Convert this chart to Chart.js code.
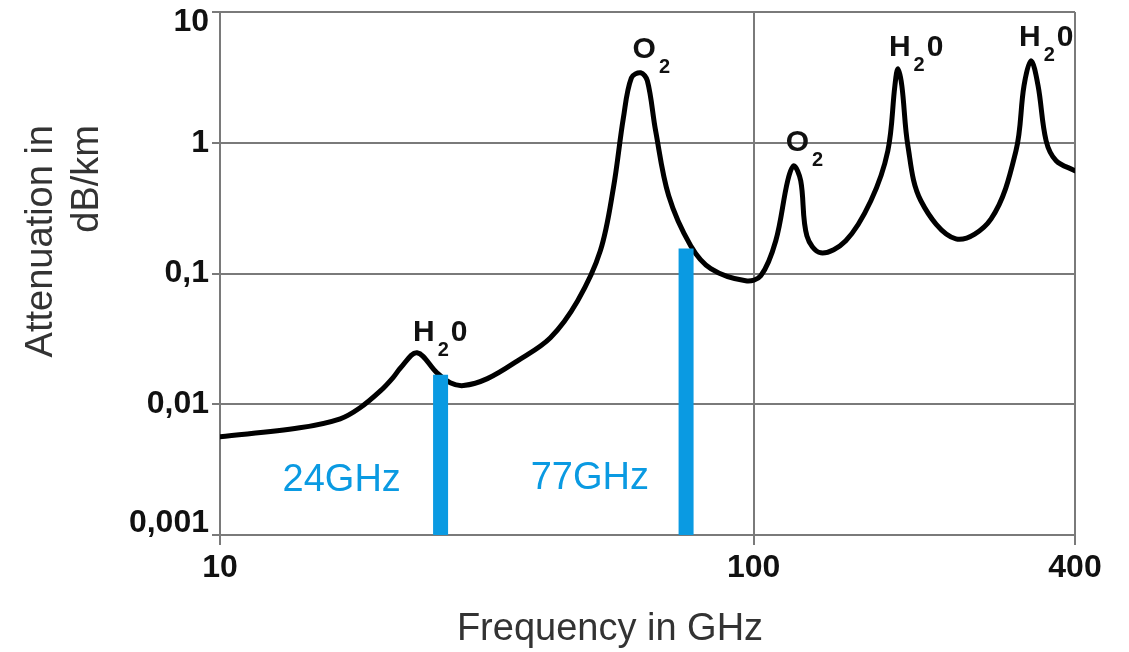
<!DOCTYPE html>
<html>
<head>
<meta charset="utf-8">
<title>Atmospheric attenuation</title>
<script src="https://cdn.jsdelivr.net/npm/chart.js@4.4.1/dist/chart.umd.min.js"></script>
<style>
  html, body { margin: 0; padding: 0; background: #fff; }
  #wrap { width: 1129px; height: 652px; }
</style>
</head>
<body>
<div id="wrap"><canvas id="attChart"></canvas></div>
<script>
// values
const freqGHz = [10, 14.1, 16.8, 18.3, 20.0, 21.1, 21.8, 23.4, 25.5, 27.0, 28.6, 31.7, 36.1, 41.6, 46.8,
  51.6, 54.6, 57.0, 59.0, 61.4, 63.2, 65.5, 69.3, 76.2, 83.1, 96.6, 103.1, 110.0, 115.8, 118.9,
  122.5, 125.8, 133.6, 148.8, 165.8, 178.4, 183.9, 186.3, 189.5, 194.5, 205.7, 239.3, 278.5,
  310.1, 321.0, 330.9, 341.1, 353.1, 368.7, 400];
const attenuation = [0.00564, 0.0066, 0.00774, 0.0094, 0.0127, 0.0160, 0.019, 0.0248, 0.0174, 0.0146,
  0.0139, 0.0157, 0.0215, 0.0323, 0.0619, 0.149, 0.453, 1.553, 3.14, 3.43, 2.98, 1.235, 0.393,
  0.163, 0.109, 0.088, 0.096, 0.178, 0.512, 0.667, 0.512, 0.194, 0.144, 0.178, 0.360, 0.869,
  2.73, 3.68, 2.73, 0.949, 0.360, 0.184, 0.262, 0.869, 2.73, 4.24, 2.73, 1.036, 0.728, 0.611];

const xTicks = [10, 100, 400];
const xTickLabels = ['10', '100', '400'];
const yTicks = [0.001, 0.01, 0.1, 1, 10];
const yTickLabels = ['0,001', '0,01', '0,1', '1', '10'];

// radar bands (blue bars) and their captions
const bandFreq = [25.9, 74.7];
const bandTop = [0.0168, 0.155];
const bandLabels = ['24GHz', '77GHz'];
const bandLabelFreq = [13.1, 38.2];
const bandLabelAtt = [0.00218, 0.00226];

// absorption line captions: main letter, subscript, tail
const peakMain = ['H', 'O', 'O', 'H', 'H'];
const peakSub = ['2', '2', '2', '2', '2'];
const peakTail = ['0', '', '', '0', '0'];
const peakLabelFreq = [23.0, 59.3, 114.8, 179.2, 314.2];
const peakLabelAtt = [0.0306, 4.47, 0.869, 4.63, 5.52];

const BLUE = '#0a9ae2';
const GRID = '#7a7a7a';
const FONT = "'Liberation Sans', Arial, sans-serif";

const annotations = {
  id: 'annotations',
  afterDatasetsDraw(chart) {
    const { ctx, scales: { x, y } } = chart;
    ctx.save();
    ctx.textAlign = 'left';
    ctx.textBaseline = 'alphabetic';

    // band captions
    ctx.fillStyle = BLUE;
    ctx.font = '38px ' + FONT;
    bandLabels.forEach((t, i) => {
      ctx.fillText(t, x.getPixelForValue(bandLabelFreq[i]), y.getPixelForValue(bandLabelAtt[i]));
    });

    // H2O / O2 captions
    ctx.fillStyle = '#111';
    peakMain.forEach((m, i) => {
      let px = x.getPixelForValue(peakLabelFreq[i]);
      const py = y.getPixelForValue(peakLabelAtt[i]);
      ctx.font = 'bold 30px ' + FONT;
      ctx.fillText(m, px, py);
      px += ctx.measureText(m).width + 3;
      ctx.font = 'bold 20px ' + FONT;
      ctx.fillText(peakSub[i], px, py + 15);
      px += ctx.measureText(peakSub[i]).width + 2;
      if (peakTail[i]) {
        ctx.font = 'bold 30px ' + FONT;
        ctx.fillText(peakTail[i], px, py);
      }
    });
    ctx.restore();
  },
  afterDraw(chart) {
    const { ctx, chartArea, scales: { y } } = chart;
    ctx.save();

    // y tick labels, end labels kept inside the plot height
    ctx.fillStyle = '#111';
    ctx.font = 'bold 32px ' + FONT;
    ctx.textAlign = 'right';
    ctx.textBaseline = 'middle';
    yTicks.forEach((v, i) => {
      const py = Math.min(Math.max(y.getPixelForValue(v), chartArea.top + 10), chartArea.bottom - 12);
      ctx.fillText(yTickLabels[i], chartArea.left - 11, py);
    });

    ctx.fillStyle = '#333';
    ctx.font = '38px ' + FONT;

    // x title
    ctx.textAlign = 'center';
    ctx.textBaseline = 'alphabetic';
    ctx.fillText('Frequency in GHz', 610, chartArea.bottom + 105);

    // y title, two rotated lines
    ctx.translate(0, 125);
    ctx.rotate(-Math.PI / 2);
    ctx.textAlign = 'right';
    ctx.textBaseline = 'middle';
    ctx.fillText('Attenuation in', 0, 42);
    ctx.fillText('dB/km', 0, 88);
    ctx.restore();
  }
};

const ctx = document.getElementById('attChart');

new Chart(ctx, {
  type: 'line',
  data: {
    datasets: [{
      label: 'Attenuation',
      data: freqGHz.map((f, i) => ({ x: f, y: attenuation[i] })),
      borderColor: '#000',
      borderWidth: 5,
      pointRadius: 0,
      tension: 0.35,
      borderJoinStyle: 'round',
      borderCapStyle: 'round',
      order: 2
    }].concat(bandFreq.map((f, i) => ({
      label: bandLabels[i],
      data: [{ x: f, y: yTicks[0] }, { x: f, y: bandTop[i] }],
      borderColor: BLUE,
      borderWidth: 15,
      borderCapStyle: 'butt',
      pointRadius: 0,
      order: 1
    })))
  },
  options: {
    responsive: true,
    maintainAspectRatio: false,
    animation: false,
    layout: {
      padding: { top: 12, right: 54, left: 0, bottom: 0 }
    },
    plugins: {
      legend: { display: false },
      tooltip: { enabled: false }
    },
    scales: {
      x: {
        type: 'logarithmic',
        position: 'bottom',
        min: 10,
        max: 400,
        afterBuildTicks: scale => { scale.ticks = xTicks.map(v => ({ value: v })); },
        afterFit: scale => {
          scale.height = 117;
          scale.paddingLeft = 0;
          scale.paddingRight = 0;
        },
        grid: {
          color: GRID,
          lineWidth: 2,
          tickLength: 10,
          tickColor: GRID
        },
        border: { color: GRID, width: 2 },
        ticks: {
          autoSkip: false,
          maxRotation: 0,
          padding: 4,
          color: '#111',
          font: { family: FONT, size: 32, weight: 'bold' },
          callback: value => {
            const i = xTicks.indexOf(value);
            return i < 0 ? '' : xTickLabels[i];
          }
        }
      },
      y: {
        type: 'logarithmic',
        min: 0.001,
        max: 10,
        afterBuildTicks: scale => { scale.ticks = yTicks.map(v => ({ value: v })); },
        afterFit: scale => {
          scale.width = 220;
          scale.paddingTop = 0;
          scale.paddingBottom = 0;
        },
        grid: {
          color: GRID,
          lineWidth: 2,
          tickLength: 8,
          tickColor: GRID
        },
        border: { color: GRID, width: 2 },
        ticks: { display: false }
      }
    }
  },
  plugins: [annotations]
});
</script>
</body>
</html>
